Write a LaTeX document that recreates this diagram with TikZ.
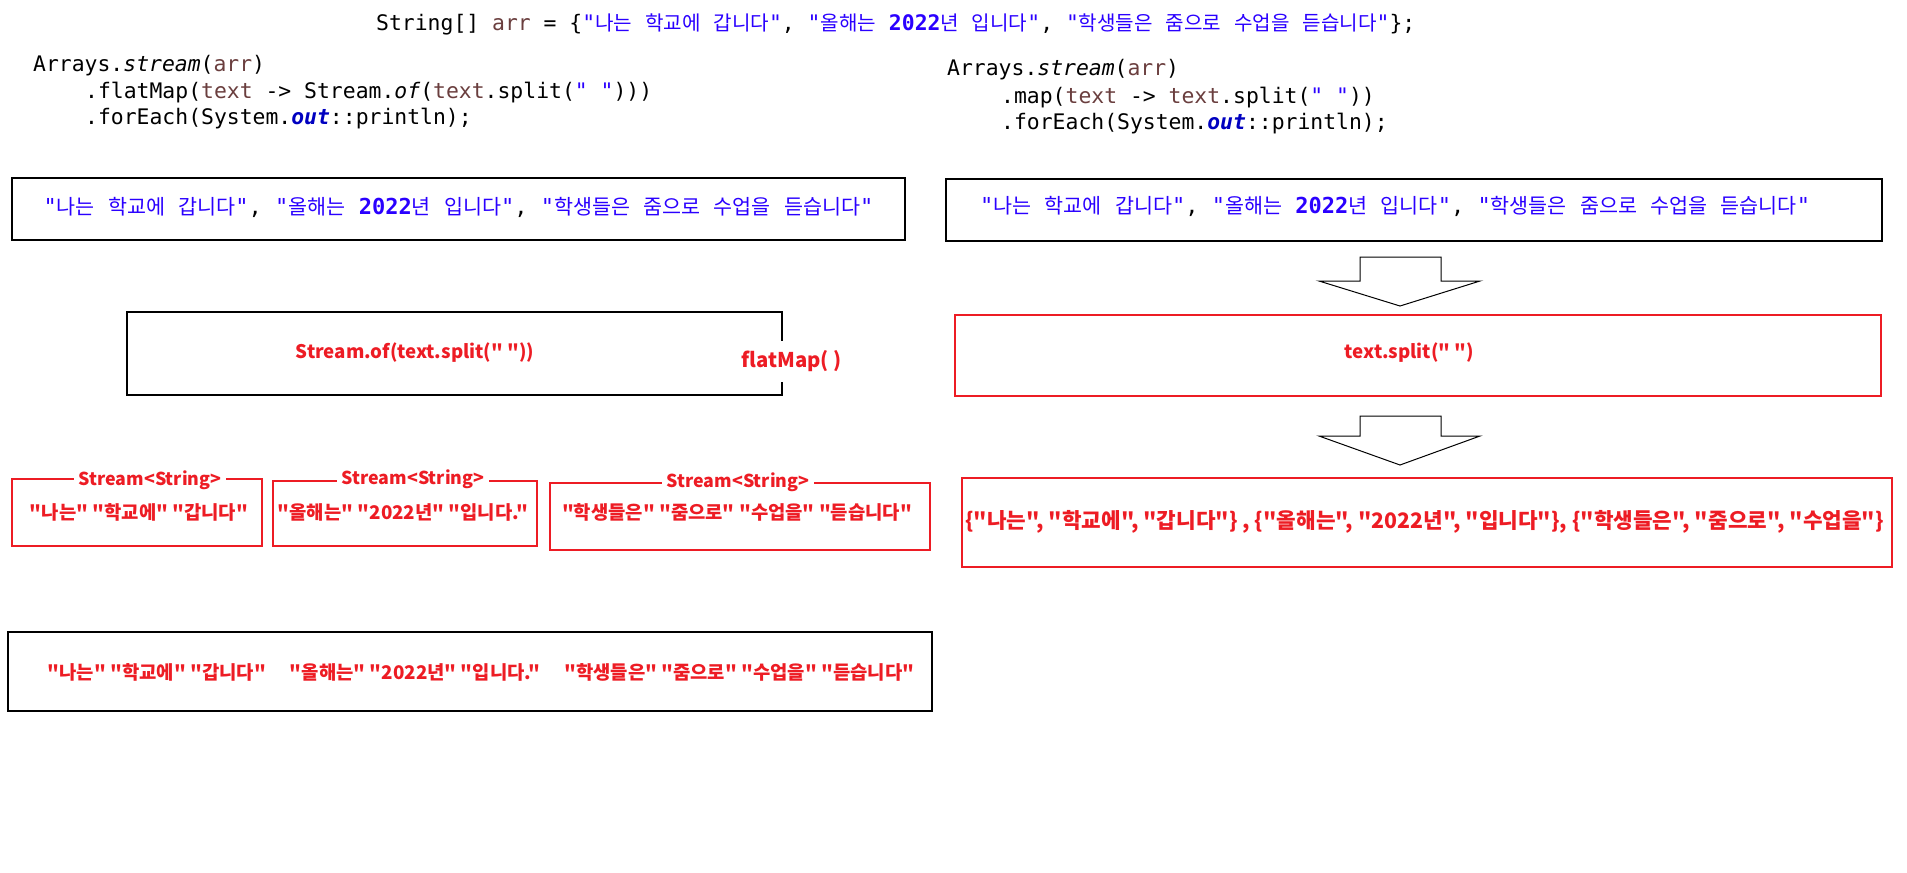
\documentclass[tikz,border=0pt]{standalone}
\usepackage{fontspec}
\setmonofont{DejaVu Sans Mono}
\newfontfamily\krfont{Noto Sans CJK KR}
\newfontfamily\hkfont[Scale=0.94]{Noto Sans CJK KR}
\usepackage{tikz}
\tikzset{>=stealth}
\usetikzlibrary{positioning}
\definecolor{strblue}{RGB}{42,0,255}
\definecolor{varbrown}{RGB}{106,62,62}
\definecolor{fldblue}{RGB}{0,0,192}
\definecolor{paintred}{RGB}{237,28,36}
\newcommand{\cvar}[1]{\textcolor{varbrown}{#1}}
\newcommand{\cstr}[1]{\textcolor{strblue}{#1}}
\newcommand{\cfld}[1]{\textcolor{fldblue}{\bfseries\itshape #1}}
\newcommand{\hk}[1]{{\hkfont #1}}

\begin{document}
\begin{tikzpicture}[x=1pt, y=-1pt,
    code/.style={anchor=west, inner sep=0pt, text height=15pt, text depth=4pt, font=\fontsize{21.4}{24}\ttfamily},
    boxcode/.style={code, font=\fontsize{22}{25}\ttfamily},
    blackbox/.style={draw=black, line width=1.6pt, inner sep=0pt},
    redbox/.style={draw=paintred, line width=1.4pt, inner sep=0pt},
    redtxt/.style={text=paintred, inner sep=0pt, font=\fontsize{18.8}{22}\krfont\bfseries},
    latinred/.style={text=paintred, inner sep=0pt, font=\fontsize{18.7}{22}\krfont\bfseries},
    streamtag/.style={fill=white, inner xsep=5pt, inner ysep=1pt, text=paintred, font=\fontsize{17.8}{20}\krfont\bfseries}]
    \useasboundingbox (0,0) rectangle (1907,873);

    % the array
    \node[code] (arr) at (376,25) {String[] \cvar{arr} = \{\cstr{"\hk{나는} \hk{학교에} \hk{갑니다}"}, \cstr{"\hk{올해는} \textbf{2022}\hk{년} \hk{입니다}"}, \cstr{"\hk{학생들은} \hk{줌으로} \hk{수업을} \hk{듣습니다}"}\};};

    % flatMap code
    \node[code] (fm1) at (33,66) {Arrays.\textit{stream}(\cvar{arr})};
    \node[code] (fm2) at (85,92.5) {.flatMap(\cvar{text} -> Stream.\textit{of}(\cvar{text}.split(\cstr{" "})))};
    \node[code] (fm3) at (85,119) {.forEach(System.\cfld{out}::println);};

    % map code
    \node[code] (mp1) at (947,70) {Arrays.\textit{stream}(\cvar{arr})};
    \node[code] (mp2) at (1001,97.5) {.map(\cvar{text} -> \cvar{text}.split(\cstr{" "}))};
    \node[code] (mp3) at (1001,123.5) {.forEach(System.\cfld{out}::println);};

    % left column
    \node[blackbox, minimum width=893pt, minimum height=62pt] (fmsrc) at (458.5,209) {};
    \node[boxcode, anchor=center] at (fmsrc) {\cstr{"\hk{나는} \hk{학교에} \hk{갑니다}"}, \cstr{"\hk{올해는} \textbf{2022}\hk{년} \hk{입니다}"}, \cstr{"\hk{학생들은} \hk{줌으로} \hk{수업을} \hk{듣습니다}"}};

    \node[blackbox, minimum width=655pt, minimum height=83pt] (fmfun) at (454.5,353.5) {};
    \node[latinred] (fmfuntxt) at (415,353) {Stream.of(text.split(" "))};
    \node[latinred, font=\fontsize{20.3}{24}\krfont\bfseries, fill=white, minimum height=41pt] (fmname) at (791.5,361) {flatMap( )};

    \node[redbox, minimum width=250pt, minimum height=67pt] (st1) at (137,512.5) {};
    \node[redtxt] (st1txt) at (139,512) {"나는" "학교에" "갑니다"};
    \node[streamtag] (st1tag) at (150,480) {Stream<String>};

    \node[redbox, minimum width=264pt, minimum height=65pt] (st2) at (405,513.5) {};
    \node[redtxt] (st2txt) at (403,512) {"올해는" "2022년" "입니다."};
    \node[streamtag] (st2tag) at (413,479) {Stream<String>};

    \node[redbox, minimum width=380pt, minimum height=67pt] (st3) at (740,516.5) {};
    \node[redtxt] (st3txt) at (737,512) {"학생들은" "줌으로" "수업을" "듣습니다"};
    \node[streamtag] (st3tag) at (738,482) {Stream<String>};

    \node[blackbox, minimum width=924pt, minimum height=79pt] (flat) at (470,671.5) {};
    \node[redtxt] (flattxt) at (481,672) {"나는" "학교에" "갑니다"\hspace{24pt}"올해는" "2022년" "입니다."\hspace{24pt}"학생들은" "줌으로" "수업을" "듣습니다"};

    % right column
    \node[blackbox, minimum width=936pt, minimum height=62pt] (mpsrc) at (1414,210) {};
    \node[boxcode] at (980,208) {\cstr{"\hk{나는} \hk{학교에} \hk{갑니다}"}, \cstr{"\hk{올해는} \textbf{2022}\hk{년} \hk{입니다}"}, \cstr{"\hk{학생들은} \hk{줌으로} \hk{수업을} \hk{듣습니다}"}};

    \node[redbox, minimum width=926pt, minimum height=81pt] (mpfun) at (1418,355.5) {};
    \node[latinred] (mpfuntxt) at (1409.5,353) {text.split(" ")};

    \node[redbox, minimum width=930pt, minimum height=89pt] (arrs) at (1427,522.5) {};
    \node[redtxt, font=\fontsize{21.3}{25}\krfont\bfseries] (arrstxt) at (1424.5,522) {\{"나는", "학교에", "갑니다"\} , \{"올해는", "2022년", "입니다"\}, \{"학생들은", "줌으로", "수업을"\}};

    % block arrows
    \foreach \shaft/\neck/\tip in {257/281/306, 416/436/465}
        \draw[line width=1pt] (1360,\shaft) -- (1441,\shaft) -- (1441,\neck) -- (1480,\neck) -- (1400,\tip) -- (1319,\neck) -- (1360,\neck) -- cycle;
\end{tikzpicture}
\end{document}
